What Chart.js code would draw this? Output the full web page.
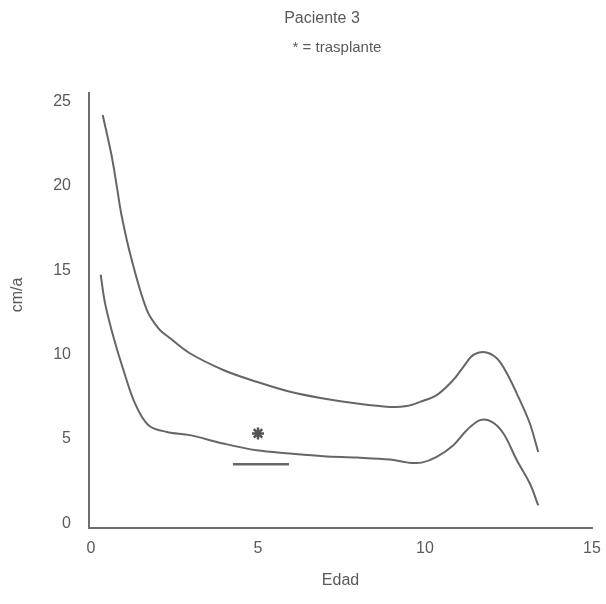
<!DOCTYPE html>
<html>
<head>
<meta charset="utf-8">
<script src="https://cdn.jsdelivr.net/npm/chart.js@4.4.1/dist/chart.umd.min.js"></script>
<style>
  html, body { margin: 0; padding: 0; background: #ffffff; }
  #wrap { width: 606px; height: 604px; position: relative; }
</style>
</head>
<body>
<div id="wrap"><canvas id="c" width="606" height="604"></canvas></div>
<script>
// ---- data ----
const titleText = "Paciente 3";
const subtitleText = "* = trasplante";
const xAxisLabel = "Edad";
const yAxisLabel = "cm/a";

const xTicks = [0, 5, 10, 15];
const yTicks = [0, 5, 10, 15, 20, 25];

// upper reference curve
const upperX = [0.35, 0.62, 0.77, 0.92, 1.22, 1.67, 2.02, 2.37, 2.96, 3.96, 4.96, 5.96, 6.96, 7.96, 8.95, 9.45, 9.85, 10.35, 10.85, 11.15, 11.45, 11.8, 12.15, 12.45, 12.84, 13.14, 13.39];
const upperY = [24.2, 21.75, 20.0, 18.2, 15.6, 12.65, 11.56, 10.97, 10.08, 9.09, 8.39, 7.8, 7.4, 7.1, 6.9, 6.95, 7.2, 7.6, 8.5, 9.28, 9.98, 10.14, 9.78, 8.89, 7.3, 5.92, 4.23];

// lower reference curve
const lowerX = [0.29, 0.42, 0.67, 0.97, 1.32, 1.72, 2.27, 2.96, 3.96, 4.96, 5.96, 6.96, 7.96, 8.95, 9.5, 9.9, 10.35, 10.85, 11.25, 11.65, 12.0, 12.35, 12.75, 13.14, 13.39];
const lowerY = [14.73, 13.05, 11.06, 9.09, 7.1, 5.82, 5.42, 5.23, 4.73, 4.33, 4.14, 3.98, 3.9, 3.78, 3.6, 3.6, 3.94, 4.63, 5.52, 6.12, 6.02, 5.33, 3.74, 2.36, 1.07];

// patient velocity segment
const patientX = [4.25, 5.93];
const patientY = [3.5, 3.5];

// transplant marker
const transplantX = [5.0];
const transplantY = [5.33];

// ---- build ----
const pts = (xs, ys) => xs.map((x, i) => ({ x: x, y: ys[i] }));
const ink = '#666666';
const textInk = '#5a5a5a';
const fontFamily = '"Liberation Sans", Arial, Helvetica, sans-serif';

const titlePlugin = {
  id: 'manualTitles',
  afterDraw(chart) {
    const ctx = chart.ctx;
    ctx.save();
    ctx.fillStyle = textInk;
    ctx.textAlign = 'center';
    ctx.textBaseline = 'middle';
    ctx.font = '16px ' + fontFamily;
    ctx.fillText(titleText, 322, 19);
    ctx.font = '15px ' + fontFamily;
    ctx.fillText(subtitleText, 337, 48);
    ctx.translate(18, 295);
    ctx.rotate(-Math.PI / 2);
    ctx.font = '16px ' + fontFamily;
    ctx.fillText(yAxisLabel, 0, 0);
    ctx.restore();
  }
};

new Chart(document.getElementById('c'), {
  type: 'line',
  data: {
    datasets: [
      { label: 'upper', data: pts(upperX, upperY), borderColor: ink, borderWidth: 2, pointRadius: 0, tension: 0.35, fill: false },
      { label: 'lower', data: pts(lowerX, lowerY), borderColor: ink, borderWidth: 2, pointRadius: 0, tension: 0.35, fill: false },
      { label: 'paciente', data: pts(patientX, patientY), borderColor: ink, borderWidth: 2.5, pointRadius: 0, tension: 0, fill: false },
      { label: 'trasplante', data: pts(transplantX, transplantY), showLine: false, pointStyle: 'star', pointRadius: 6, borderWidth: 2.5, borderColor: '#555555', backgroundColor: '#555555' }
    ]
  },
  options: {
    responsive: false,
    devicePixelRatio: 1,
    animation: false,
    events: [],
    layout: { padding: { top: 93, right: 14, bottom: 10, left: 8 } },
    plugins: {
      legend: { display: false },
      tooltip: { enabled: false },
      title: { display: false }
    },
    scales: {
      x: {
        type: 'linear',
        min: -0.06,
        max: 15,
        afterBuildTicks: (s) => { s.ticks = xTicks.map(v => ({ value: v })); },
        afterFit: (s) => { s.paddingRight = 0; s.paddingLeft = 0; },
        grid: { display: false, drawTicks: false },
        border: { display: true, color: '#6e6e6e', width: 2 },
        ticks: { color: textInk, font: { family: fontFamily, size: 16 }, padding: 11, maxRotation: 0 },
        title: { display: true, text: xAxisLabel, color: textInk, font: { family: fontFamily, size: 16 }, padding: { top: 2, bottom: 4 } }
      },
      y: {
        type: 'linear',
        min: -0.25,
        max: 25.5,
        afterBuildTicks: (s) => { s.ticks = yTicks.map(v => ({ value: v })); },
        afterFit: (s) => { s.width = 81; },
        grid: { display: false, drawTicks: false },
        border: { display: true, color: '#6e6e6e', width: 2 },
        ticks: { color: textInk, font: { family: fontFamily, size: 16 }, padding: 18 },
        title: { display: false }
      }
    }
  },
  plugins: [titlePlugin]
});
</script>
</body>
</html>
